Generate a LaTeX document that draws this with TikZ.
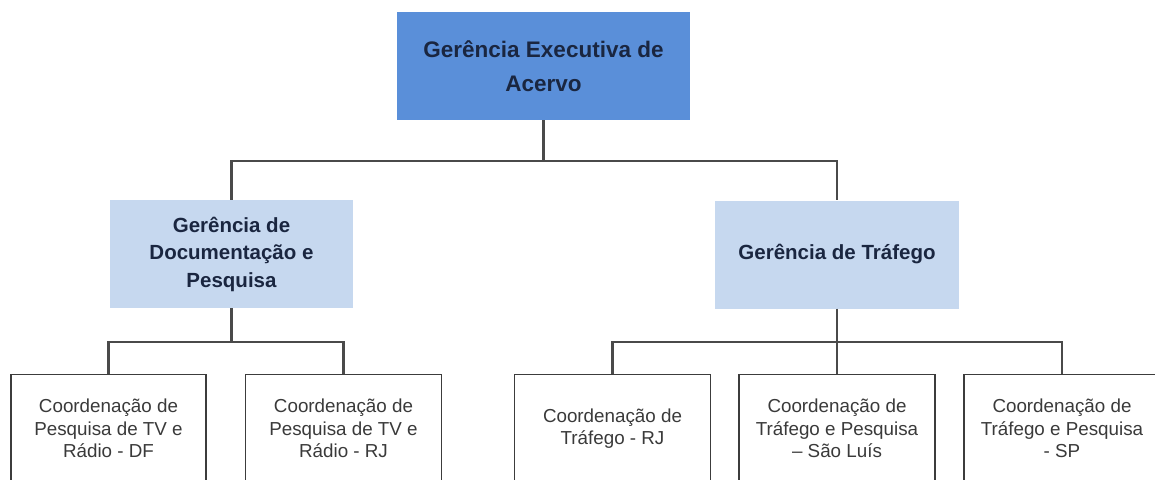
\documentclass[tikz,border=0pt]{standalone}
\usepackage{fontspec}
\setmainfont{Liberation Sans}
\definecolor{topblue}{HTML}{5A8FD9}
\definecolor{midblue}{HTML}{C6D8EF}
\definecolor{navytxt}{HTML}{1A2640}
\definecolor{greytxt}{HTML}{3A3A3A}
\definecolor{linegrey}{HTML}{4A4A4A}
\definecolor{boxgrey}{HTML}{3C3C3C}
\tikzset{
  topbox/.style={fill=topblue, draw=none, minimum width=293pt, minimum height=108pt, inner sep=0pt,
    align=center, text=navytxt, font=\bfseries\fontsize{22.5}{34}\selectfont},
  midbox/.style={fill=midblue, draw=none, minimum height=108pt, inner sep=0pt,
    align=center, text=navytxt, font=\bfseries\fontsize{20.5}{27.5}\selectfont},
  leafbox/.style={fill=white, draw=boxgrey, line width=1.6pt, minimum width=196pt, minimum height=108pt, inner sep=0pt,
    align=center, text=greytxt, font=\fontsize{18.8}{22.5}\selectfont},
  conn/.style={draw=linegrey, line width=2.2pt}
}
\begin{document}
\begin{tikzpicture}[x=1pt,y=-1pt]
\useasboundingbox (0,0) rectangle (1155,479);
\begin{scope}
\clip (0,0) rectangle (1155,479);
\node[topbox] (top) at (543.5,66) {Gerência Executiva de\\Acervo};
\node[midbox, minimum width=243pt] (gdp) at (231.5,254) {Gerência de\\Documentação e\\Pesquisa};
\node[midbox, minimum width=244pt] (gt) at (837,254.5) {Gerência de Tráfego};

\node[leafbox, minimum width=195pt] (c1) at (108.5,428.5) {Coordenação de\\Pesquisa de TV e\\Rádio - DF};
\node[leafbox] (c2) at (343.5,428.5) {Coordenação de\\Pesquisa de TV e\\Rádio - RJ};
\node[leafbox] (c3) at (612.5,428.5) {Coordenação de\\Tráfego - RJ};
\node[leafbox] (c4) at (837,428.5) {Coordenação de\\Tráfego e Pesquisa\\– São Luís};
\node[leafbox] (c5) at (1062,428.5) {Coordenação de\\Tráfego e Pesquisa\\- SP};

\coordinate (j0) at (543.5,161);
\coordinate (j1) at (231.5,342);
\coordinate (j2) at (837,342);

\draw[conn] (top.south) -- (j0);
\draw[conn] (gdp.north) -- (gdp.north |- j0) -- (gt.north |- j0) -- (gt.north);

\draw[conn] (gdp.south) -- (j1);
\draw[conn] (c1.north) -- (c1.north |- j1) -- (c2.north |- j1) -- (c2.north);

\draw[conn] (gt.south) -- (j2) -- (c4.north);
\draw[conn] (c3.north) -- (c3.north |- j2) -- (c5.north |- j2) -- (c5.north);
\end{scope}
\end{tikzpicture}
\end{document}
